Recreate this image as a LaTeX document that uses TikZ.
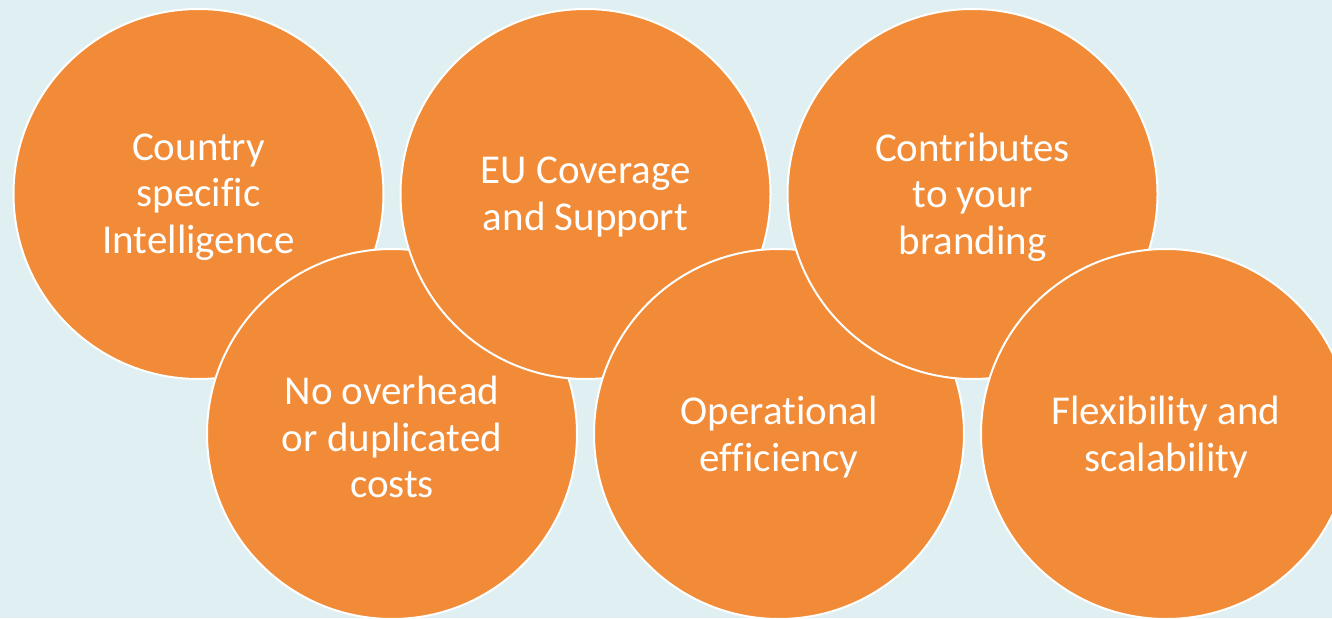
\documentclass[tikz,border=0pt]{standalone}
\usepackage{fontspec}
\setmainfont[Ligatures=NoCommon]{Carlito}
\definecolor{bgblue}{HTML}{DFEFF2}
\definecolor{orng}{HTML}{F18B37}
\begin{document}
\begin{tikzpicture}[x=1pt,y=-1pt,
  bubble/.style={circle, fill=orng, draw=white, line width=2pt, minimum size=370pt, inner sep=0pt},
  lbl/.style={text=white, align=center, font=\fontsize{41pt}{46.5pt}\selectfont, inner sep=0pt, yshift=-3pt}]
\fill[bgblue] (0,0) rectangle (1332,618);
\useasboundingbox (0,0) rectangle (1332,618);
\node[bubble] (c1) at (198.5,194) {};
\node[bubble] (c4) at (392,434) {};
\node[bubble] (c2) at (585.5,194) {};
\node[bubble] (c5) at (779,434) {};
\node[bubble] (c3) at (972.5,194) {};
\node[bubble] (c6) at (1166,434) {};
\node[lbl] (t1) at (c1.center) {Country\\specific\\Intelligence};
\node[lbl] (t2) at (c2.center) {EU Coverage\\and Support};
\node[lbl] (t3) at (c3.center) {Contributes\\to your\\branding};
\node[lbl] (t4) at (c4.center) {No overhead\\or duplicated\\costs};
\node[lbl] (t5) at (c5.center) {Operational\\efficiency};
\node[lbl] (t6) at (c6.center) {Flexibility and\\scalability};
\end{tikzpicture}
\end{document}
